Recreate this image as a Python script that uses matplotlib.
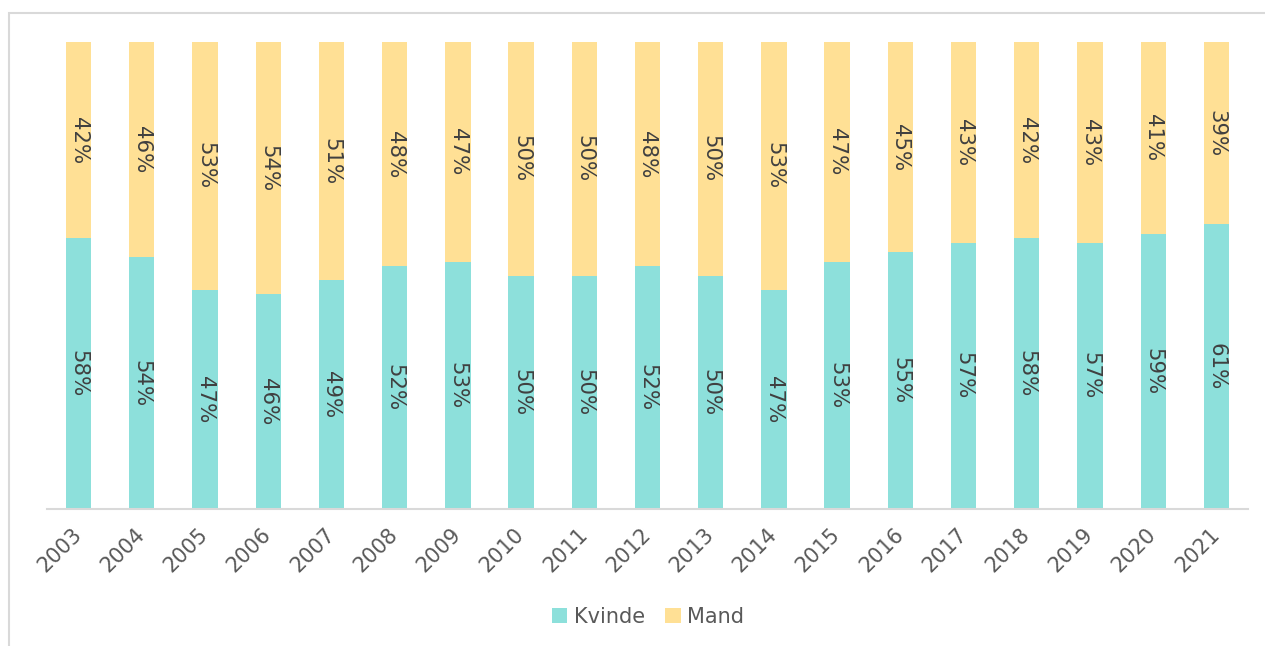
import numpy as np
import matplotlib
matplotlib.use("Agg")
import matplotlib.pyplot as plt
import matplotlib.patches as patches

# data
years = [str(y) for y in range(2003, 2022)]
kvinde = [58, 54, 47, 46, 49, 52, 53, 50, 50, 52, 50, 47, 53, 55, 57, 58, 57, 59, 61]
mand = [42, 46, 53, 54, 51, 48, 47, 50, 50, 48, 50, 53, 47, 45, 43, 42, 43, 41, 39]

c_kvinde = "#8DE0DB"
c_mand = "#FFE095"
txt_dark = "#404040"
txt_grey = "#595959"

W, H = 1265, 646
fig = plt.figure(figsize=(W / 100, H / 100), dpi=100)

# outer chart frame (partly outside the picture)
frame = patches.Rectangle((9 / W, -0.5), 2.0, (H - 13) / H + 0.5,
                          transform=fig.transFigure, fill=False,
                          edgecolor="#d9d9d9", linewidth=1.5, clip_on=False)
fig.patches.append(frame)

ax = fig.add_axes([47 / W, (H - 509.3) / H, (1248 - 47) / W, (509.3 - 42) / H])

x = np.arange(len(years))
kv = np.array(kvinde)
ma = np.array(mand)
ax.bar(x, kv, width=0.4, color=c_kvinde, label="Kvinde")
ax.bar(x, ma, width=0.4, bottom=kv, color=c_mand, label="Mand")

# value labels, rotated
for i in range(len(years)):
    ax.text(x[i], kv[i] / 2, "%d%%" % kv[i], rotation=270, ha="center", va="center",
            fontsize=15.3, color=txt_dark)
    ax.text(x[i], kv[i] + ma[i] / 2, "%d%%" % ma[i], rotation=270, ha="center", va="center",
            fontsize=15.3, color=txt_dark)

ax.set_xlim(-0.5, len(years) - 0.5)
ax.set_ylim(0, 100)
ax.set_yticks([])
ax.set_xticks(x)
ax.set_xticklabels(years, rotation=45, ha="right", va="center", rotation_mode="anchor",
                   fontsize=15, color=txt_grey)
ax.tick_params(axis="x", length=0, pad=16)
for s in ["top", "right", "left"]:
    ax.spines[s].set_visible(False)
ax.spines["bottom"].set_color("#d9d9d9")
ax.spines["bottom"].set_linewidth(1.5)

leg = fig.legend(loc="center", bbox_to_anchor=(648 / W, (H - 617) / H), ncol=2,
                 frameon=False, fontsize=15, handlelength=0.75, handleheight=0.75,
                 handletextpad=0.3, columnspacing=1.0)
for t in leg.get_texts():
    t.set_color(txt_grey)

fig.savefig("out.png", dpi=100)
